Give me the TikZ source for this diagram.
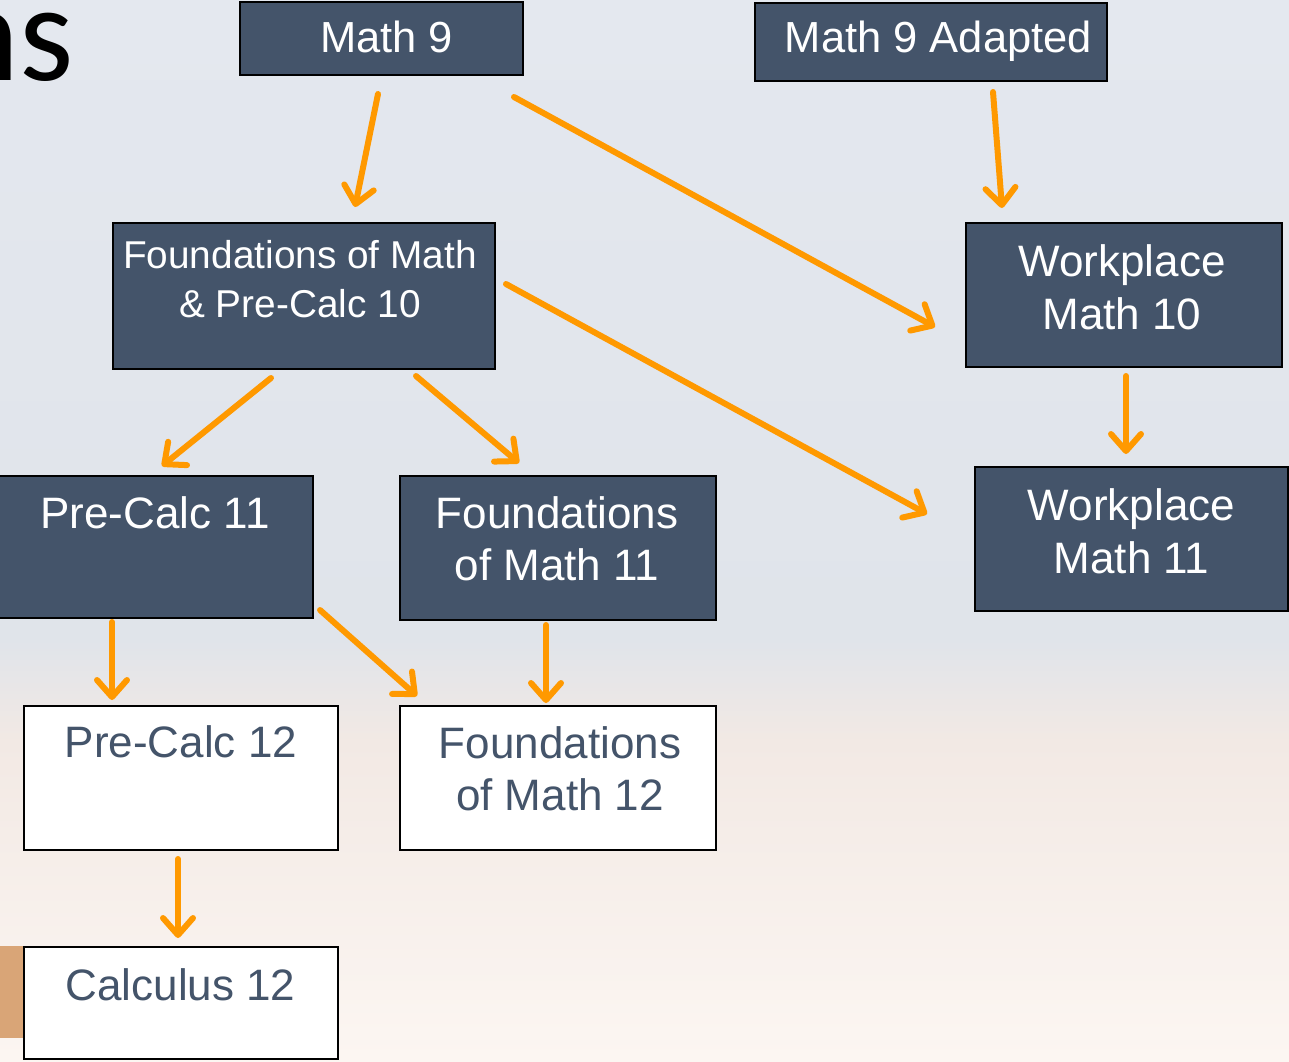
\documentclass[tikz,border=0pt]{standalone}
\usepackage{fontspec}
\setmainfont{Liberation Sans}
\newfontfamily\titlefont{Carlito}
\usetikzlibrary{arrows.meta}
\definecolor{boxfill}{HTML}{44546A}
\definecolor{arrorange}{HTML}{FF9900}
\definecolor{bgtop}{HTML}{E4E8EF}
\definecolor{bgmid}{HTML}{E0E4EA}
\definecolor{bgpeach}{HTML}{F2E9E4}
\definecolor{bgbottom}{HTML}{FCF6F2}
\definecolor{woodcol}{HTML}{D9A577}
\tikzset{
  dbox/.style={draw=black, line width=2pt, fill=boxfill, inner sep=0pt, outer sep=0pt},
  wbox/.style={draw=black, line width=2pt, fill=white, inner sep=0pt, outer sep=0pt},
  dtext/.style={text=white, inner sep=0pt, align=center, font=\fontsize{44}{52.5}\selectfont},
  wtext/.style={text=boxfill, inner sep=0pt, align=center, font=\fontsize{44}{52.5}\selectfont},
  arr/.style={draw=arrorange, line width=6pt, line cap=round,
    -{Straight Barb[length=17pt,width=30pt,round]}},
}
\begin{document}
\begin{tikzpicture}[x=1pt,y=-1pt]
\useasboundingbox (0,0) rectangle (1289,1061);
\clip (0,0) rectangle (1289,1061);
% background
\shade[top color=bgtop, bottom color=bgmid] (0,0) rectangle (1289,641);
\shade[top color=bgmid, bottom color=bgpeach] (0,640) rectangle (1289,741);
\shade[top color=bgpeach, bottom color=bgbottom] (0,740) rectangle (1289,1061);
\fill[woodcol] (0,946) rectangle (26,1038);
% partial title
\node[anchor=base east, inner sep=0pt, font=\titlefont\fontsize{139}{150}\selectfont] (title) at (74,80) {ns};

% boxes
\node[dbox, minimum width=283, minimum height=73] (m9) at (381.5,38.5) {};
\node[dbox, minimum width=352, minimum height=78] (m9a) at (931,42) {};
\node[dbox, minimum width=382, minimum height=146] (f10) at (304,296) {};
\node[dbox, minimum width=316, minimum height=144] (w10) at (1124,295) {};
\node[dbox, minimum width=314, minimum height=142] (pc11) at (156,547) {};
\node[dbox, minimum width=316, minimum height=144] (f11) at (558,548) {};
\node[dbox, minimum width=313, minimum height=144] (w11) at (1131.5,539) {};
\node[wbox, minimum width=314, minimum height=144] (pc12) at (181,778) {};
\node[wbox, minimum width=316, minimum height=144] (f12) at (558,778) {};
\node[wbox, minimum width=314, minimum height=112] (c12) at (181,1003) {};

% texts
\node[dtext, anchor=base, font=\fontsize{43.5}{52}\selectfont] (m9t) at (386.5,52) {Math 9};
\node[dtext, anchor=base, font=\fontsize{43.5}{52}\selectfont] (m9at) at (938.5,52) {Math 9 Adapted};
\node[dtext, anchor=north, font=\fontsize{38.8}{49}\selectfont] (f10t) at (300,240) {Foundations of Math\\\& Pre-Calc 10};
\node[dtext, anchor=north] (w10t) at (1122,244.5) {Workplace\\Math 10};
\node[dtext, anchor=base] (pc11t) at (155,528) {Pre-Calc 11};
\node[dtext, anchor=north] (f11t) at (557,496) {Foundations\\of Math 11};
\node[dtext, anchor=north] (w11t) at (1131.5,488.5) {Workplace\\Math 11};
\node[wtext, anchor=base] (pc12t) at (181,757) {Pre-Calc 12};
\node[wtext, anchor=north] (f12t) at (560,726) {Foundations\\of Math 12};
\node[wtext, anchor=base] (c12t) at (180.5,1000) {Calculus 12};

% arrows
\draw[arr] ([shift={(-3.5,19)}]m9.south) -- ([shift={(51,-16)}]f10.north);
\draw[arr] ([shift={(-9,22)}]m9.south east) -- ([shift={(-31,32)}]w10.west);
\draw[arr] ([shift={(62,11)}]m9a.south) -- ([shift={(-122,-15)}]w10.north);
\draw[arr] ([shift={(-33,9)}]f10.south) -- ([shift={(6,-10)}]pc11.north);
\draw[arr] ([shift={(112,7)}]f10.south) -- ([shift={(-39,-13)}]f11.north);
\draw[arr] ([shift={(11,-12)}]f10.east) -- ([shift={(-48,-25)}]w11.west);
\draw[arr] ([shift={(2,9)}]w10.south) -- ([shift={(-5.5,-13)}]w11.north);
\draw[arr] ([shift={(-44,4)}]pc11.south) -- ([shift={(-69,-6)}]pc12.north);
\draw[arr] ([shift={(7,-8)}]pc11.south east) -- ([shift={(17,-10)}]f12.north west);
\draw[arr] ([shift={(-12,5)}]f11.south) -- ([shift={(-12,-3)}]f12.north);
\draw[arr] ([shift={(-3,9)}]pc12.south) -- ([shift={(-3,-9)}]c12.north);
\end{tikzpicture}
\end{document}
